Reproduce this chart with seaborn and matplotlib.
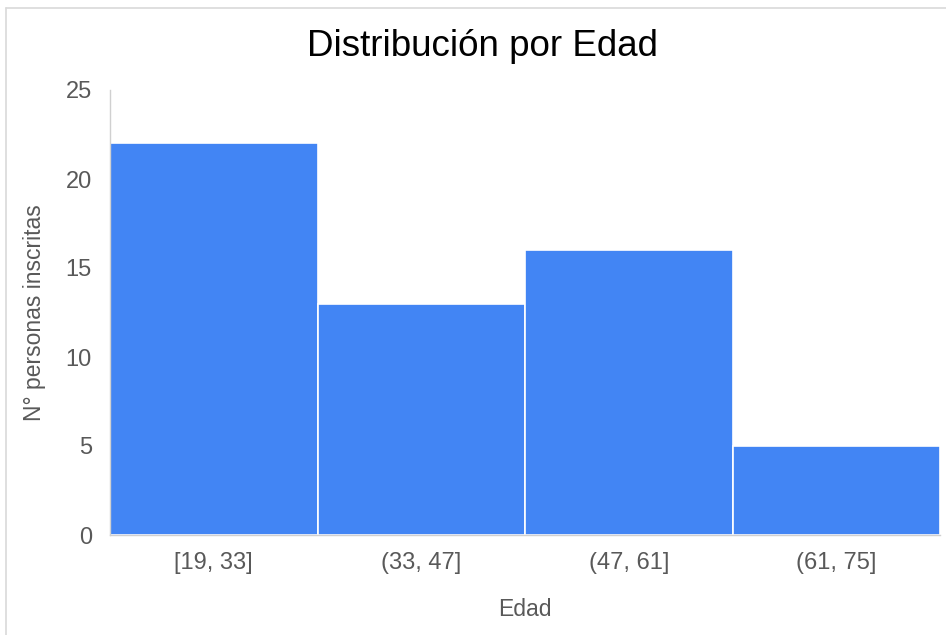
import matplotlib
matplotlib.use("Agg")
import matplotlib.pyplot as plt
from matplotlib.lines import Line2D
import seaborn as sns
import pandas as pd

categories = ["[19, 33]", "(33, 47]", "(47, 61]", "(61, 75]"]
counts = [22, 13, 16, 5]
y_ticks = [0, 5, 10, 15, 20, 25]

sns.set_theme(style="white")
plt.rcParams["font.family"] = ["Liberation Sans", "DejaVu Sans"]

df = pd.DataFrame({"Edad": categories, "n": counts})

fig = plt.figure(figsize=(9.46, 6.35), dpi=100)
ax = fig.add_axes([110 / 946, 1 - 535 / 635, 830 / 946, 445 / 635])

sns.barplot(data=df, x="Edad", y="n", color="#4285F4", saturation=1,
            width=1.0, edgecolor="white", linewidth=1.2, ax=ax)

ax.set_xlim(-0.5, len(categories) - 0.5)
ax.set_ylim(0, 25)
ax.set_yticks(y_ticks)
ax.set_yticklabels([str(t) for t in y_ticks])

gray = "#595959"
ax.tick_params(axis="both", length=0, labelsize=17, labelcolor=gray)
ax.tick_params(axis="x", pad=12)
ax.tick_params(axis="y", pad=13)

for s in ["top", "right"]:
    ax.spines[s].set_visible(False)
for s in ["left", "bottom"]:
    ax.spines[s].set_color("#d0d0d0")
    ax.spines[s].set_linewidth(1)

ax.set_xlabel("Edad", fontsize=16.5, color=gray)
ax.set_ylabel("N° personas inscritas", fontsize=16.5, color=gray)
ax.xaxis.set_label_coords(0.5, -(610 - 535) / 445)
ax.xaxis.label.set_verticalalignment("center")
ax.yaxis.set_label_coords(-(110 - 35) / 830, 0.5)
ax.yaxis.label.set_verticalalignment("center")

fig.text(482 / 946, 1 - 46 / 635, "Distribución por Edad", fontsize=26.5,
         color="black", ha="center", va="center")

# outer frame lines (left and top) of the chart card
fig.add_artist(Line2D([6 / 946, 6 / 946], [0, 1 - 8 / 635], transform=fig.transFigure,
                      color="#d9d9d9", linewidth=1.2))
fig.add_artist(Line2D([6 / 946, 1], [1 - 8 / 635, 1 - 8 / 635], transform=fig.transFigure,
                      color="#d9d9d9", linewidth=1.2))

fig.savefig("out.png", dpi=100)
